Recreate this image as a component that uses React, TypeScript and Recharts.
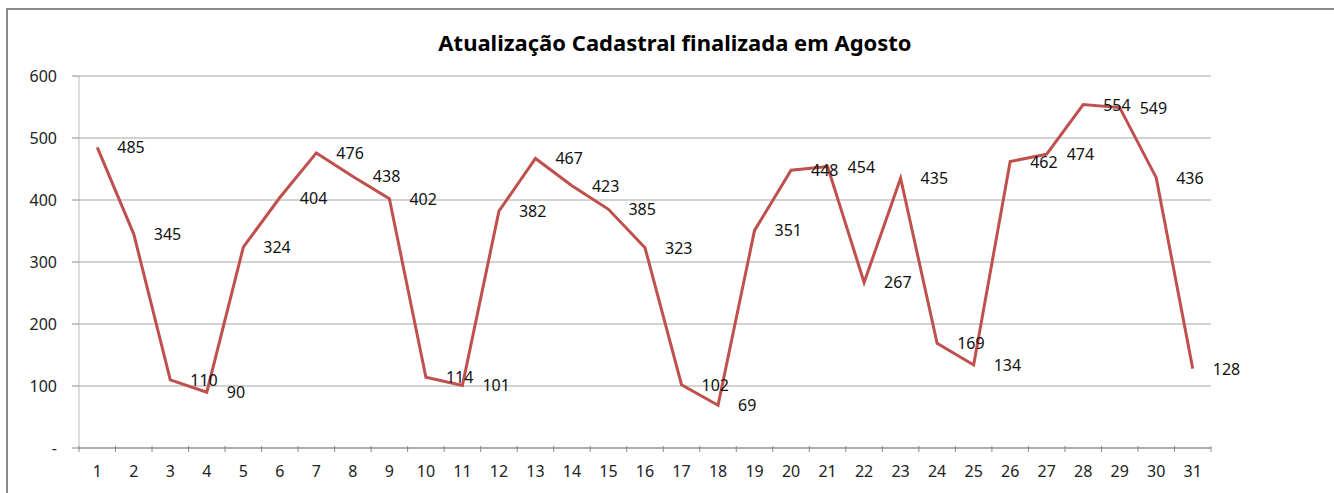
import { LineChart, Line, XAxis, YAxis, CartesianGrid, LabelList } from "recharts";

const days = [
  "1", "2", "3", "4", "5", "6", "7", "8", "9", "10", "11", "12", "13", "14", "15", "16",
  "17", "18", "19", "20", "21", "22", "23", "24", "25", "26", "27", "28", "29", "30", "31",
];
const totals = [
  485, 345, 110, 90, 324, 404, 476, 438, 402, 114, 101, 382, 467, 423, 385, 323,
  102, 69, 351, 448, 454, 267, 435, 169, 134, 462, 474, 554, 549, 436, 128,
];
const yTicks = [0, 100, 200, 300, 400, 500, 600];

const data = days.map((d, i) => ({ day: d, total: totals[i] }));

const W = 1334;
const H = 493;
const PLOT_LEFT = 79;
const PLOT_RIGHT = 1211;
const STEP = (PLOT_RIGHT - PLOT_LEFT) / days.length;
const FONT = "'Noto Sans', sans-serif";

function DayTick(props: any) {
  const { x, y, payload, index } = props;
  const top = y - 10;
  return (
    <g>
      <line x1={x - STEP / 2} x2={x - STEP / 2} y1={top} y2={top + 6} stroke="#888" />
      {index === days.length - 1 && (
        <line x1={x + STEP / 2} x2={x + STEP / 2} y1={top} y2={top + 6} stroke="#888" />
      )}
      <text x={x} y={y + 15} dominantBaseline="central" textAnchor="middle" fontSize={16} fill="#222" fontFamily={FONT}>
        {payload.value}
      </text>
    </g>
  );
}

function ValueTickY(props: any) {
  const { x, y, payload } = props;
  return (
    <text x={x} y={y} dominantBaseline="central" textAnchor="end" fontSize={16} fill="#222" fontFamily={FONT}>
      {payload.value === 0 ? "-" : payload.value}
    </text>
  );
}

function ValueLabel(props: any) {
  const { x, y, value } = props;
  return (
    <text x={x + 20} y={y} dominantBaseline="central" fontSize={16} fill="#111" fontFamily={FONT}>
      {value}
    </text>
  );
}

export default function App() {
  return (
    <div style={{ position: "absolute", left: 0, top: 0, width: W, height: H, overflow: "hidden", background: "#fff" }}>
      <div
        style={{
          position: "absolute",
          left: 6,
          top: 8,
          width: W + 20,
          height: H + 20,
          border: "2px solid #8a8a8a",
        }}
      />
      <div
        style={{
          position: "absolute",
          top: 27,
          left: 0,
          width: 1350,
          textAlign: "center",
          fontFamily: FONT,
          fontWeight: 700,
          fontSize: 22,
          color: "#000",
        }}
      >
        Atualização Cadastral finalizada em Agosto
      </div>
      <div style={{ position: "absolute", left: 0, top: 0 }}>
        <LineChart width={W} height={H} data={data} margin={{ top: 76, right: W - PLOT_RIGHT, bottom: 0, left: 0 }}>
          <CartesianGrid vertical={false} stroke="#a6a6a6" strokeWidth={1} />
          <XAxis
            dataKey="day"
            height={45}
            interval={0}
            padding={{ left: STEP / 2, right: STEP / 2 }}
            axisLine={{ stroke: "#888" }}
            tickLine={false}
            tick={<DayTick />}
          />
          <YAxis
            width={PLOT_LEFT}
            domain={[0, 600]}
            ticks={yTicks}
            interval={0}
            axisLine={{ stroke: "#bbb" }}
            tickLine={{ stroke: "#888" }}
            tickSize={7}
            tickMargin={15}
            tick={<ValueTickY />}
          />
          <Line
            type="linear"
            dataKey="total"
            stroke="#c0504d"
            strokeWidth={3}
            dot={false}
            isAnimationActive={false}
          >
            <LabelList dataKey="total" content={<ValueLabel />} />
          </Line>
        </LineChart>
      </div>
    </div>
  );
}
